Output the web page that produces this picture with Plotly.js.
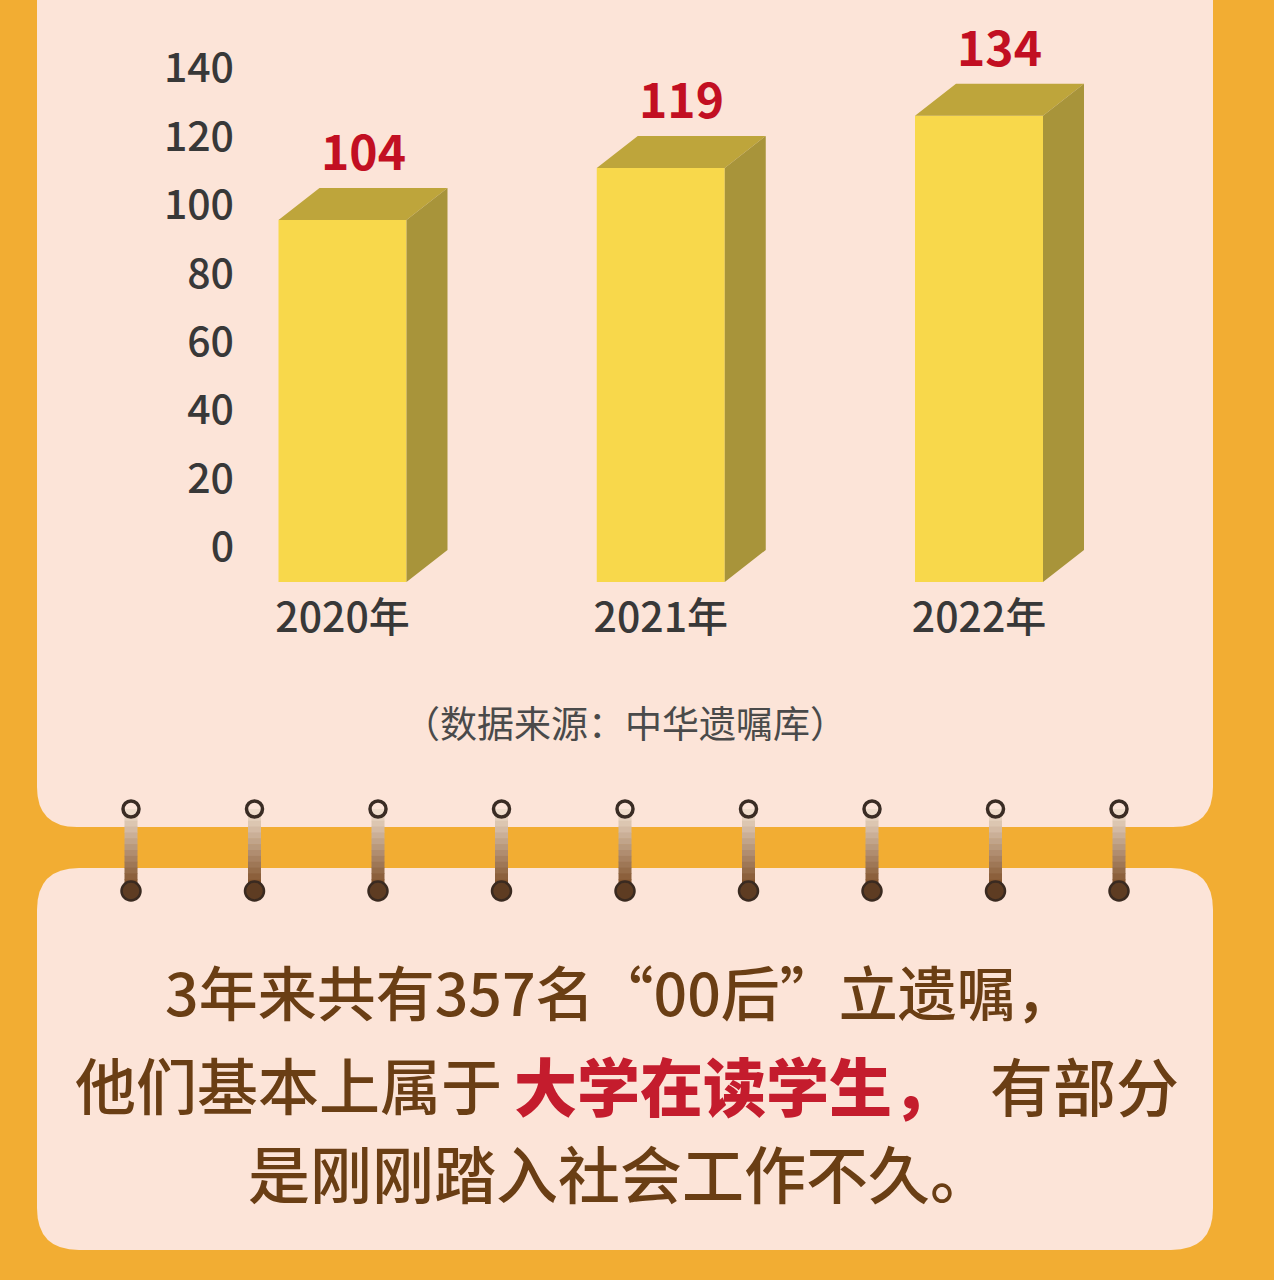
<!DOCTYPE html>
<html>
<head>
<meta charset="utf-8">
<script src="https://cdn.plot.ly/plotly-3.0.1.min.js"></script>
<style>html,body{margin:0;padding:0;background:#F2AD33;}#chart{width:1274px;height:1280px;}</style>
</head>
<body>
<div id="chart"></div>
<script>
// ---- data ----
const years = ['2020年', '2021年', '2022年'];
const counts = [104, 119, 134];
const yTickVals = [0, 20, 40, 60, 80, 100, 120, 140];
const sourceText = '（数据来源：中华遗嘱库）';
const line1 = '3年来共有357名“00后”立遗嘱，';
const line2a = '他们基本上属于';
const line2b = '大学在读学生，';
const line2c = '有部分';
const line3 = '是刚刚踏入社会工作不久。';

// ---- geometry helpers (page pixels -> paper fractions) ----
const W = 1274, H = 1280;
const fx = p => p / W;
const fy = p => 1 - p / H;

// x axis: category centres at 342.5, 660.75, 979 px
const xPerUnit = 318.25;
const xr0 = -342.5 / xPerUnit;
const xr1 = xr0 + W / xPerUnit;
// y axis for bars: base at 582 px, 3.48 px per unit
const yPx = 3.48;
const yr1 = 582 / yPx;
const yr0 = -(H - 582) / yPx;
// y axis for tick labels: 0 at 547 px, 140 at 68 px
const y2Px = (547 - 68) / 140;
const y2r1 = 140 + 68 / y2Px;
const y2r0 = -(H - 547) / y2Px;

const hw = 64 / xPerUnit;      // half width of front face
const dx = 41 / xPerUnit;      // depth offset x
const dy = 32 / yPx;           // depth offset y (data units)

const xs = counts.map((_, i) => i);

// top faces and side faces
const topX = [], topY = [], sideX = [], sideY = [];
counts.forEach((v, i) => {
  topX.push(i - hw, i + hw, i + hw + dx, i - hw + dx, i - hw, null);
  topY.push(v, v, v + dy, v + dy, v, null);
  sideX.push(i + hw, i + hw + dx, i + hw + dx, i + hw, i + hw, null);
  sideY.push(v, v + dy, dy, 0, v, null);
});

const traces = [
  {type: 'bar', x: xs, y: counts, width: 2 * hw, marker: {color: '#F8D84B', line: {width: 0}}, hoverinfo: 'skip', showlegend: false},
  {type: 'scatter', mode: 'lines', x: topX, y: topY, fill: 'toself', fillcolor: '#BEA53B', line: {width: 0, color: '#BEA53B'}, hoverinfo: 'skip', showlegend: false},
  {type: 'scatter', mode: 'lines', x: sideX, y: sideY, fill: 'toself', fillcolor: '#A8943A', line: {width: 0, color: '#A8943A'}, hoverinfo: 'skip', showlegend: false},
  {type: 'scatter', mode: 'markers', x: [0], y: [0], yaxis: 'y2', marker: {opacity: 0}, hoverinfo: 'skip', showlegend: false}
];

// ---- shapes: cards and rings ----
function roundRect(x0, y0, x1, y1, rTop, rBot) {
  const P = (x, y) => fx(x) + ',' + fy(y);
  return 'M' + P(x0 + rTop, y0) + ' L' + P(x1 - rTop, y0) + ' Q' + P(x1, y0) + ' ' + P(x1, y0 + rTop) +
    ' L' + P(x1, y1 - rBot) + ' Q' + P(x1, y1) + ' ' + P(x1 - rBot, y1) +
    ' L' + P(x0 + rBot, y1) + ' Q' + P(x0, y1) + ' ' + P(x0, y1 - rBot) +
    ' L' + P(x0, y0 + rTop) + ' Q' + P(x0, y0) + ' ' + P(x0 + rTop, y0) + ' Z';
}
const cardColor = '#FCE4D8';
const shapes = [
  {type: 'path', xref: 'paper', yref: 'paper', path: roundRect(37, -60, 1213, 827, 0, 40), fillcolor: cardColor, line: {width: 0}, layer: 'below'},
  {type: 'path', xref: 'paper', yref: 'paper', path: roundRect(37, 868, 1213, 1250, 42, 42), fillcolor: cardColor, line: {width: 0}, layer: 'below'}
];
const ringXs = [131, 254.5, 378, 501.5, 625, 748.5, 872, 995.5, 1119];
function mix(a, b, t) {
  const pa = [1, 3, 5].map(k => parseInt(a.substr(k, 2), 16));
  const pb = [1, 3, 5].map(k => parseInt(b.substr(k, 2), 16));
  return 'rgb(' + pa.map((c, j) => Math.round(c + (pb[j] - c) * t)).join(',') + ')';
}
ringXs.forEach(cx => {
  const top = 809, bot = 891, n = 14;
  for (let k = 0; k < n; k++) {
    const a = top + (bot - top) * k / n, b = top + (bot - top) * (k + 1) / n + 0.6;
    shapes.push({type: 'rect', xref: 'paper', yref: 'paper', x0: fx(cx - 6.5), x1: fx(cx + 6.5), y0: fy(b), y1: fy(a),
      fillcolor: mix('#EEDCCB', '#7A4A22', k / (n - 1)), line: {width: 0}, layer: 'below'});
  }
  shapes.push({type: 'circle', xref: 'paper', yref: 'paper', x0: fx(cx - 9.5), x1: fx(cx + 9.5), y0: fy(bot + 9.5), y1: fy(bot - 9.5),
    fillcolor: '#5E3C22', line: {width: 2.5, color: '#3A2A20'}, layer: 'below'});
  shapes.push({type: 'circle', xref: 'paper', yref: 'paper', x0: fx(cx - 8), x1: fx(cx + 8), y0: fy(top + 8), y1: fy(top - 8),
    fillcolor: 'rgba(0,0,0,0)', line: {width: 3.5, color: '#3A2C24'}, layer: 'below'});
});

// ---- annotations ----
const brown = '#6A3E14', red = '#C41C2D';
const cjk = '"Noto Sans CJK SC", "Noto Sans", sans-serif';
const annotations = counts.map((v, i) => ({
  xref: 'x', yref: 'y', x: i + dx / 2, y: v + dy, text: String(v), showarrow: false,
  xanchor: 'center', yanchor: 'bottom', yshift: 2,
  font: {family: cjk, size: 48, color: '#C20F22', weight: 700}
}));
annotations.push(
  {xref: 'paper', yref: 'paper', x: fx(625), y: fy(722), text: sourceText, showarrow: false, xanchor: 'center', yanchor: 'middle',
    font: {family: cjk, size: 37, color: '#4A4A4A'}},
  {xref: 'paper', yref: 'paper', x: fx(163), y: fy(990), text: line1, showarrow: false, xanchor: 'left', yanchor: 'middle',
    font: {family: cjk, size: 59, color: brown, weight: 500}},
  {xref: 'paper', yref: 'paper', x: fx(73), y: fy(1083), text: line2a, showarrow: false, xanchor: 'left', yanchor: 'middle',
    font: {family: cjk, size: 61, color: brown, weight: 500}},
  {xref: 'paper', yref: 'paper', x: fx(512), y: fy(1083), text: line2b, showarrow: false, xanchor: 'left', yanchor: 'middle',
    font: {family: cjk, size: 63, color: red, weight: 900}},
  {xref: 'paper', yref: 'paper', x: fx(988), y: fy(1083), text: line2c, showarrow: false, xanchor: 'left', yanchor: 'middle',
    font: {family: cjk, size: 63, color: brown, weight: 500}},
  {xref: 'paper', yref: 'paper', x: fx(246), y: fy(1172), text: line3, showarrow: false, xanchor: 'left', yanchor: 'middle',
    font: {family: cjk, size: 62, color: brown, weight: 500}}
);

const layout = {
  width: W, height: H,
  margin: {l: 0, r: 0, t: 0, b: 0, pad: 0},
  paper_bgcolor: '#F2AD33',
  plot_bgcolor: 'rgba(0,0,0,0)',
  showlegend: false,
  xaxis: {range: [xr0, xr1], domain: [0, 1], anchor: 'free', position: fy(582), tickmode: 'array', tickvals: xs, ticktext: years,
    showgrid: false, zeroline: false, showline: false, ticks: '', ticklabelstandoff: 8,
    tickfont: {family: cjk, size: 41, color: '#383838', weight: 500}, fixedrange: true},
  yaxis: {range: [yr0, yr1], domain: [0, 1], visible: false, showgrid: false, zeroline: false, fixedrange: true},
  yaxis2: {range: [y2r0, y2r1], overlaying: 'y', anchor: 'free', position: fx(238), side: 'left', tickmode: 'array', tickvals: yTickVals,
    showgrid: false, zeroline: false, showline: false, ticks: '', ticklabelstandoff: 4,
    tickfont: {family: cjk, size: 41, color: '#383838', weight: 500}, fixedrange: true},
  shapes: shapes,
  annotations: annotations
};

Plotly.newPlot('chart', traces, layout, {displayModeBar: false, staticPlot: true});
</script>
</body>
</html>
